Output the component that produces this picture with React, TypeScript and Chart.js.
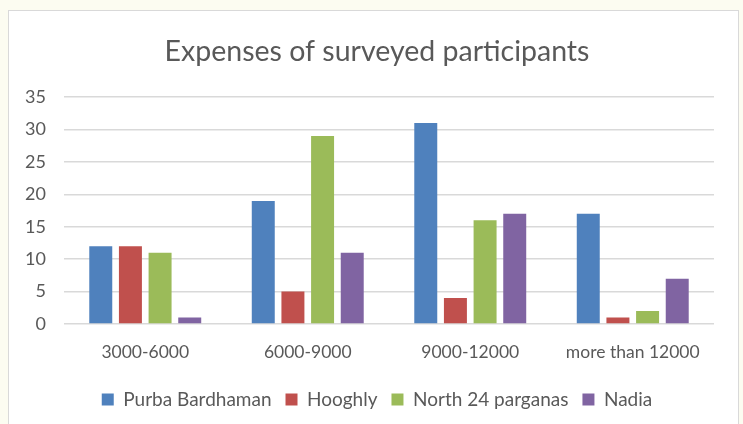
import React, { useEffect, useRef } from "react";
import { Chart, registerables } from "chart.js";

Chart.register(...registerables);

const categories = ["3000-6000", "6000-9000", "9000-12000", "more than 12000"];
const purbaBardhaman = [12, 19, 31, 17];
const hooghly = [12, 5, 4, 1];
const north24Parganas = [11, 29, 16, 2];
const nadia = [1, 11, 17, 7];
const yTicks = [0, 5, 10, 15, 20, 25, 30, 35];

const FONT = "Lato, 'Open Sans', sans-serif";
const TEXT = "#595959";

// The left padding keeps title and legend centred on the framed panel;
// widen the value axis box back to the canvas edge so its labels are not clipped.
const widenValueAxis = {
  id: "widenValueAxis",
  afterLayout(chart: any) {
    const y = chart.scales.y;
    if (y) y.left = 0;
  },
};

export default function App() {
  const canvasRef = useRef<HTMLCanvasElement | null>(null);

  useEffect(() => {
    if (!canvasRef.current) return;
    const chart = new Chart(canvasRef.current, {
      type: "bar",
      data: {
        labels: categories,
        datasets: [
          { label: "Purba Bardhaman", data: purbaBardhaman, backgroundColor: "#4F81BD" },
          { label: "Hooghly", data: hooghly, backgroundColor: "#C0504D" },
          { label: "North 24 parganas", data: north24Parganas, backgroundColor: "#9BBB59" },
          { label: "Nadia", data: nadia, backgroundColor: "#8064A2" },
        ],
      },
      options: {
        animation: false,
        responsive: false,
        maintainAspectRatio: false,
        datasets: { bar: { categoryPercentage: 0.73, barPercentage: 0.775 } },
        layout: { padding: { left: 40, right: 29, top: 20, bottom: 5 } },
        plugins: {
          title: {
            display: true,
            text: "Expenses of surveyed participants",
            color: TEXT,
            font: { family: FONT, size: 28.5, weight: "normal" },
            padding: { top: 15, bottom: 28 },
          },
          legend: {
            position: "bottom",
            labels: {
              color: TEXT,
              font: { family: FONT, size: 19 },
              boxWidth: 12,
              boxHeight: 12,
              padding: 14,
            },
          },
          tooltip: { enabled: false },
        },
        scales: {
          x: {
            grid: { display: false },
            border: { display: false },
            ticks: { color: TEXT, font: { family: FONT, size: 17.5 }, padding: 10, maxRotation: 0 },
            afterFit: (scale: any) => {
              scale.height = 52;
            },
          },
          y: {
            min: 0,
            max: 35,
            afterBuildTicks: (scale: any) => {
              scale.ticks = yTicks.map((v) => ({ value: v }));
            },
            grid: { color: "#d9d9d9", lineWidth: 1.5, drawTicks: false },
            border: { display: false },
            ticks: { color: TEXT, font: { family: FONT, size: 18 }, padding: 18 },
            afterFit: (scale: any) => {
              scale.width = 24;
            },
          },
        },
      },
      plugins: [widenValueAxis],
    });
    return () => chart.destroy();
  }, []);

  return (
    <div
      style={{
        position: "fixed",
        left: 0,
        top: 0,
        width: 743,
        height: 424,
        background: "#fcfcf1",
        overflow: "hidden",
      }}
    >
      <div
        style={{
          position: "absolute",
          left: 8,
          top: 10,
          width: 729,
          height: 420,
          background: "#ffffff",
          border: "1px solid #d9d9d9",
        }}
      />
      <canvas
        ref={canvasRef}
        width={743}
        height={424}
        style={{ position: "absolute", left: 0, top: 0, width: 743, height: 424 }}
      />
    </div>
  );
}
